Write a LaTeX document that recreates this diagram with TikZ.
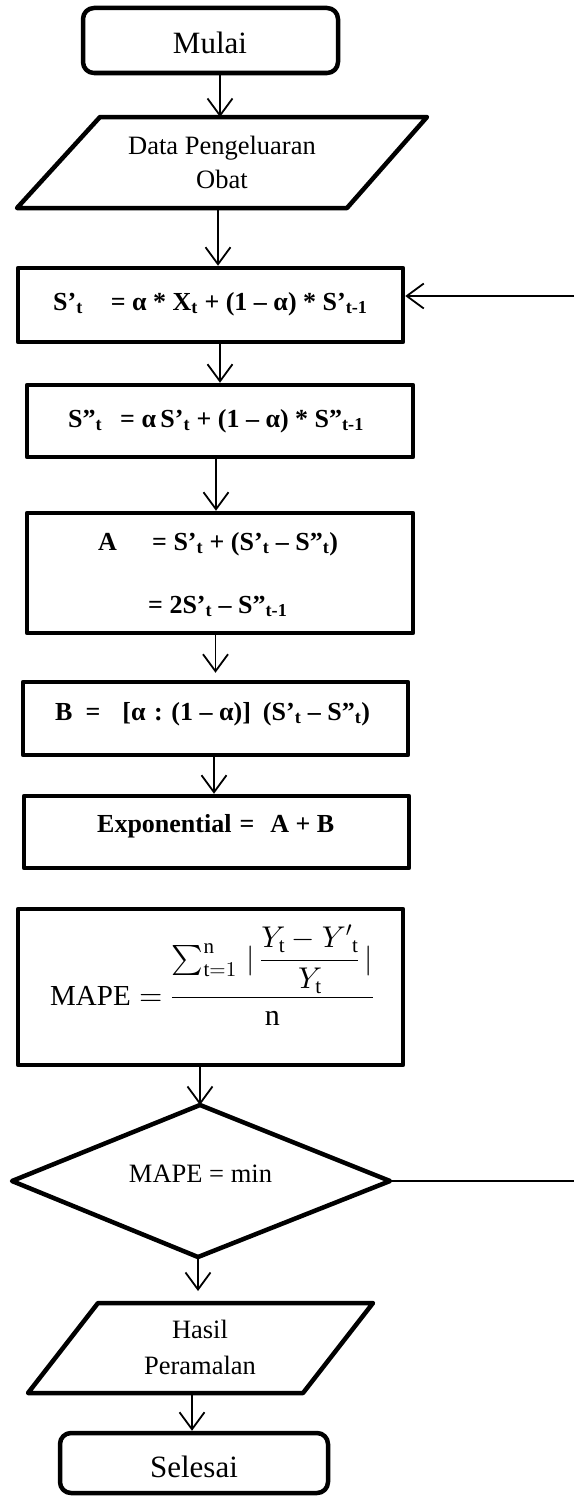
\documentclass[tikz,border=0pt]{standalone}
\usepackage{amsmath}
\DeclareFontShape{OML}{cmm}{m}{it}{<-> cmmi10}{}
\DeclareFontShape{OMS}{cmsy}{m}{n}{<-> cmsy10}{}
\DeclareFontShape{OMX}{cmex}{m}{n}{<-> cmex10}{}
\DeclareFontShape{OT1}{cmr}{m}{n}{<-> cmr10}{}
\usepackage{fontspec}
\setmainfont{Liberation Serif}
\usetikzlibrary{arrows.meta}
\newcommand{\sbx}[1]{\textsubscript{#1}}
\begin{document}
\begin{tikzpicture}[x=1pt,y=-1pt,
  shapeline/.style={line width=4.5pt, line join=round},
  procbox/.style={draw, shapeline, rectangle, inner sep=0pt},
  termbox/.style={draw, shapeline, rectangle, rounded corners=11pt, inner sep=0pt},
  arr/.style={line width=1.8pt, -{Straight Barb[length=17pt,width=25pt]}},
  conn/.style={line width=1.8pt},
  bigtxt/.style={font=\fontsize{31}{36}\selectfont, inner sep=0pt, anchor=base},
  midtxt/.style={font=\fontsize{26.5}{34}\selectfont, inner sep=0pt, anchor=base},
  boldtxt/.style={font=\fontsize{26}{30}\selectfont\bfseries, inner sep=0pt, anchor=base west},
]
\fill[white] (0,0) rectangle (574,1496);
\useasboundingbox (0,0) rectangle (574,1496);

% Mulai
\node[termbox, minimum width=255pt, minimum height=65pt] (mulai) at (210.5,40.5) {};
\node[bigtxt] (mulaitxt) at (210,54) {Mulai};

% Data
\coordinate (dTL) at (100,117);
\coordinate (dTR) at (427,117);
\coordinate (dBR) at (347,208);
\coordinate (dBL) at (17,208);
\draw[shapeline] (dTL) -- (dTR) -- (dBR) -- (dBL) -- cycle;
\node[midtxt] (data1) at (222,154) {Data Pengeluaran};
\node[midtxt] (data2) at (222,188) {Obat};
\coordinate (dIn) at (220,117);
\coordinate (dOut) at (218,208);
\draw[arr] (mulai.south -| dIn) -- (dIn);

% S't
\node[procbox, minimum width=385pt, minimum height=74pt] (s1) at (210.5,305) {};
\node[boldtxt] (s1txt) at (53,310) {S’\sbx{t}\hspace{28pt}= α * X\sbx{t} + (1 – α) * S’\sbx{t-1}};
\draw[arr] (dOut) -- (dOut |- s1.north);
\coordinate (fbIn) at (574,296);
\draw[arr] (fbIn) -- (fbIn -| s1.east);

% S"t
\node[procbox, minimum width=386pt, minimum height=72pt] (s2) at (220,421) {};
\node[boldtxt] (s2txt) at (68,427) {S”\sbx{t}\hspace{18pt}= α\,S’\sbx{t} + (1 – α) * S”\sbx{t-1}};
\draw[arr] (s1.south -| s2.north) -- (s2.north);

% A
\node[procbox, minimum width=386pt, minimum height=120pt] (a) at (220,573) {};
\node[boldtxt] (a1) at (98,550) {A};
\node[boldtxt] (a2) at (152,550) {= S’\sbx{t} + (S’\sbx{t} – S”\sbx{t})};
\node[boldtxt] (a3) at (148,613) {= 2S’\sbx{t} – S”\sbx{t-1}};
\coordinate (xSA) at (216,0);
\draw[arr] (s2.south -| xSA) -- (a.north -| xSA);

% B
\node[procbox, minimum width=385pt, minimum height=73pt] (b) at (215.5,718.5) {};
\node[boldtxt] (btxt) at (55,720) {B\hspace{13pt}=\hspace{22pt}[α\,\,:\,\,(1 – α)]\hspace{12pt}(S’\sbx{t} – S”\sbx{t})};
\draw[arr] (a.south -| b.north) -- ([yshift=7pt]b.north);

% Exponential
\node[procbox, minimum width=385pt, minimum height=72pt] (e) at (216.5,832) {};
\node[boldtxt] (etxt) at (97,832) {Exponential\hspace{8pt}=\hspace{16pt}A + B};
\coordinate (xBE) at (214,0);
\draw[arr] (b.south -| xBE) -- (e.north -| xBE);

% MAPE formula
\node[procbox, minimum width=385pt, minimum height=156pt] (m) at (210.5,987) {};
\node[inner sep=0pt, anchor=base west, font=\fontsize{30}{34}\selectfont] (mtxt) at (50,1005)
  {$\mbox{\fontsize{29}{30}\selectfont MAPE} = \dfrac{\sum\nolimits_{\mathrm{t}=1}^{\mathrm{n}} \,|\,\dfrac{Y_{\mathrm{t}} - {Y'}_{\mathrm{t}}}{Y_{\mathrm{t}}}\,|}{\mathrm{n}}$};
\coordinate (dN) at (200,1105);
\draw[arr] (m.south -| dN) -- (dN);

% Decision
\coordinate (dE) at (390,1181);
\coordinate (dS) at (198,1257);
\coordinate (dW) at (12,1181);
\draw[shapeline] (dN) -- (dE) -- (dS) -- (dW) -- cycle;
\node[midtxt] (diatxt) at (200.5,1182) {MAPE = min};
\coordinate (outR) at (574,1181);
\draw[conn] (dE) -- (outR);

% Hasil
\coordinate (hTL) at (98,1303);
\coordinate (hTR) at (373,1303);
\coordinate (hBR) at (303,1393);
\coordinate (hBL) at (28,1393);
\draw[shapeline] (hTL) -- (hTR) -- (hBR) -- (hBL) -- cycle;
\node[midtxt] (hasil1) at (200,1338) {Hasil};
\node[midtxt] (hasil2) at (200,1374) {Peramalan};
\draw[arr] (dS) -- ([yshift=12pt]dS |- hTL);

% Selesai
\node[termbox, minimum width=268pt, minimum height=60pt] (sel) at (194,1463) {};
\node[bigtxt] (seltxt) at (194,1477) {Selesai};
\coordinate (hOut) at (192,1393);
\draw[arr] (hOut) -- (hOut |- sel.north);
\end{tikzpicture}
\end{document}
